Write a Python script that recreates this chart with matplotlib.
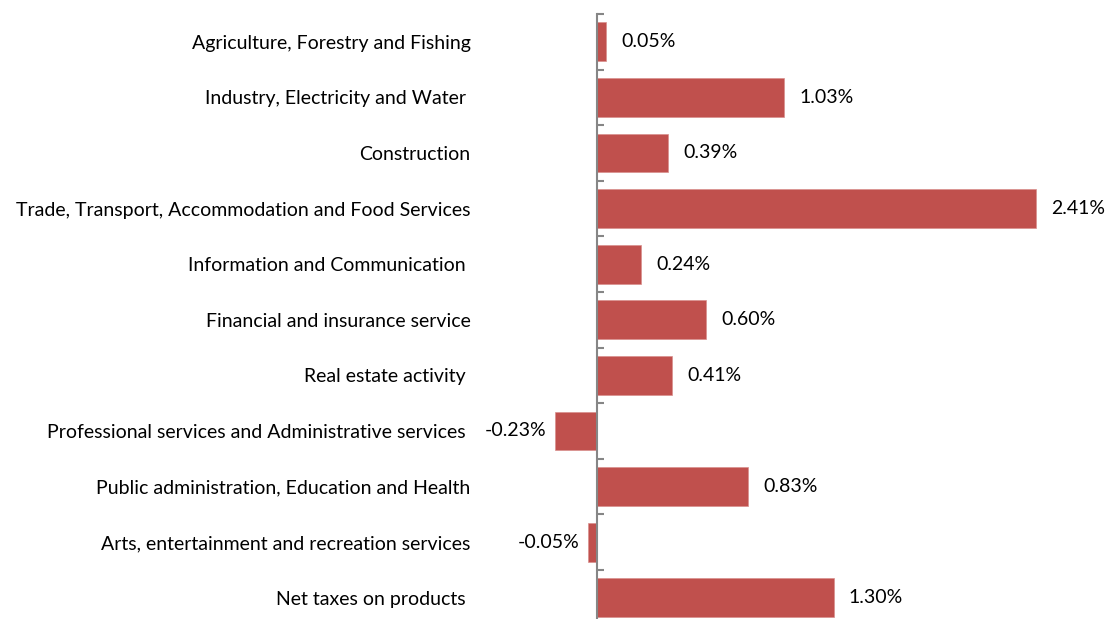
import matplotlib
matplotlib.use("Agg")
import matplotlib.pyplot as plt
from matplotlib.transforms import offset_copy

# Data
categories = [
    "Agriculture, Forestry and Fishing",
    "Industry, Electricity and Water ",
    "Construction",
    "Trade, Transport, Accommodation and Food Services",
    "Information and Communication ",
    "Financial and insurance service",
    "Real estate activity ",
    "Professional services and Administrative services ",
    "Public administration, Education and Health",
    "Arts, entertainment and recreation services",
    "Net taxes on products ",
]
values = [0.05, 1.03, 0.39, 2.41, 0.24, 0.60, 0.41, -0.23, 0.83, -0.05, 1.30]
labels = ["%.2f%%" % v for v in values]

plt.rcParams['font.family'] = ['Lato', 'DejaVu Sans']
fs = 14

fig = plt.figure(figsize=(11.07, 6.19), dpi=100)
# axes placed so zero sits at ~597px and the last category runs off the bottom
ax = fig.add_axes([540 / 1107, -6.6 / 619, 560 / 1107, 611.6 / 619])

pos = list(range(len(categories)))
ax.barh(pos, values, height=0.70, color='#C0504D', edgecolor='#D9908E', linewidth=0.5)

ax.set_xlim((540 - 597) / 182, (1100 - 597) / 182)
ax.set_ylim(len(categories) - 0.5, -0.5)

for s in ['top', 'right', 'bottom']:
    ax.spines[s].set_visible(False)
ax.spines['left'].set_position(('data', 0))
ax.spines['left'].set_color('#868686')
ax.spines['left'].set_linewidth(1.5)
ax.set_xticks([])

ax.set_yticks(pos)
ax.set_yticklabels(categories, fontsize=fs)
ax.tick_params(axis='y', which='major', length=0, pad=91)
ax.set_yticks([p - 0.5 for p in pos] + [len(pos) - 0.5], minor=True)
ax.tick_params(axis='y', which='minor', direction='in', length=5, width=1.5, color='#868686')

for p, v, t in zip(pos, values, labels):
    if v >= 0:
        tr = offset_copy(ax.transData, fig=fig, x=11, y=0, units='points')
        ax.text(v, p, t, transform=tr, ha='left', va='center', fontsize=fs, clip_on=False)
    else:
        tr = offset_copy(ax.transData, fig=fig, x=-6, y=0, units='points')
        ax.text(v, p, t, transform=tr, ha='right', va='center', fontsize=fs, clip_on=False)

fig.savefig("out.png", dpi=100)
